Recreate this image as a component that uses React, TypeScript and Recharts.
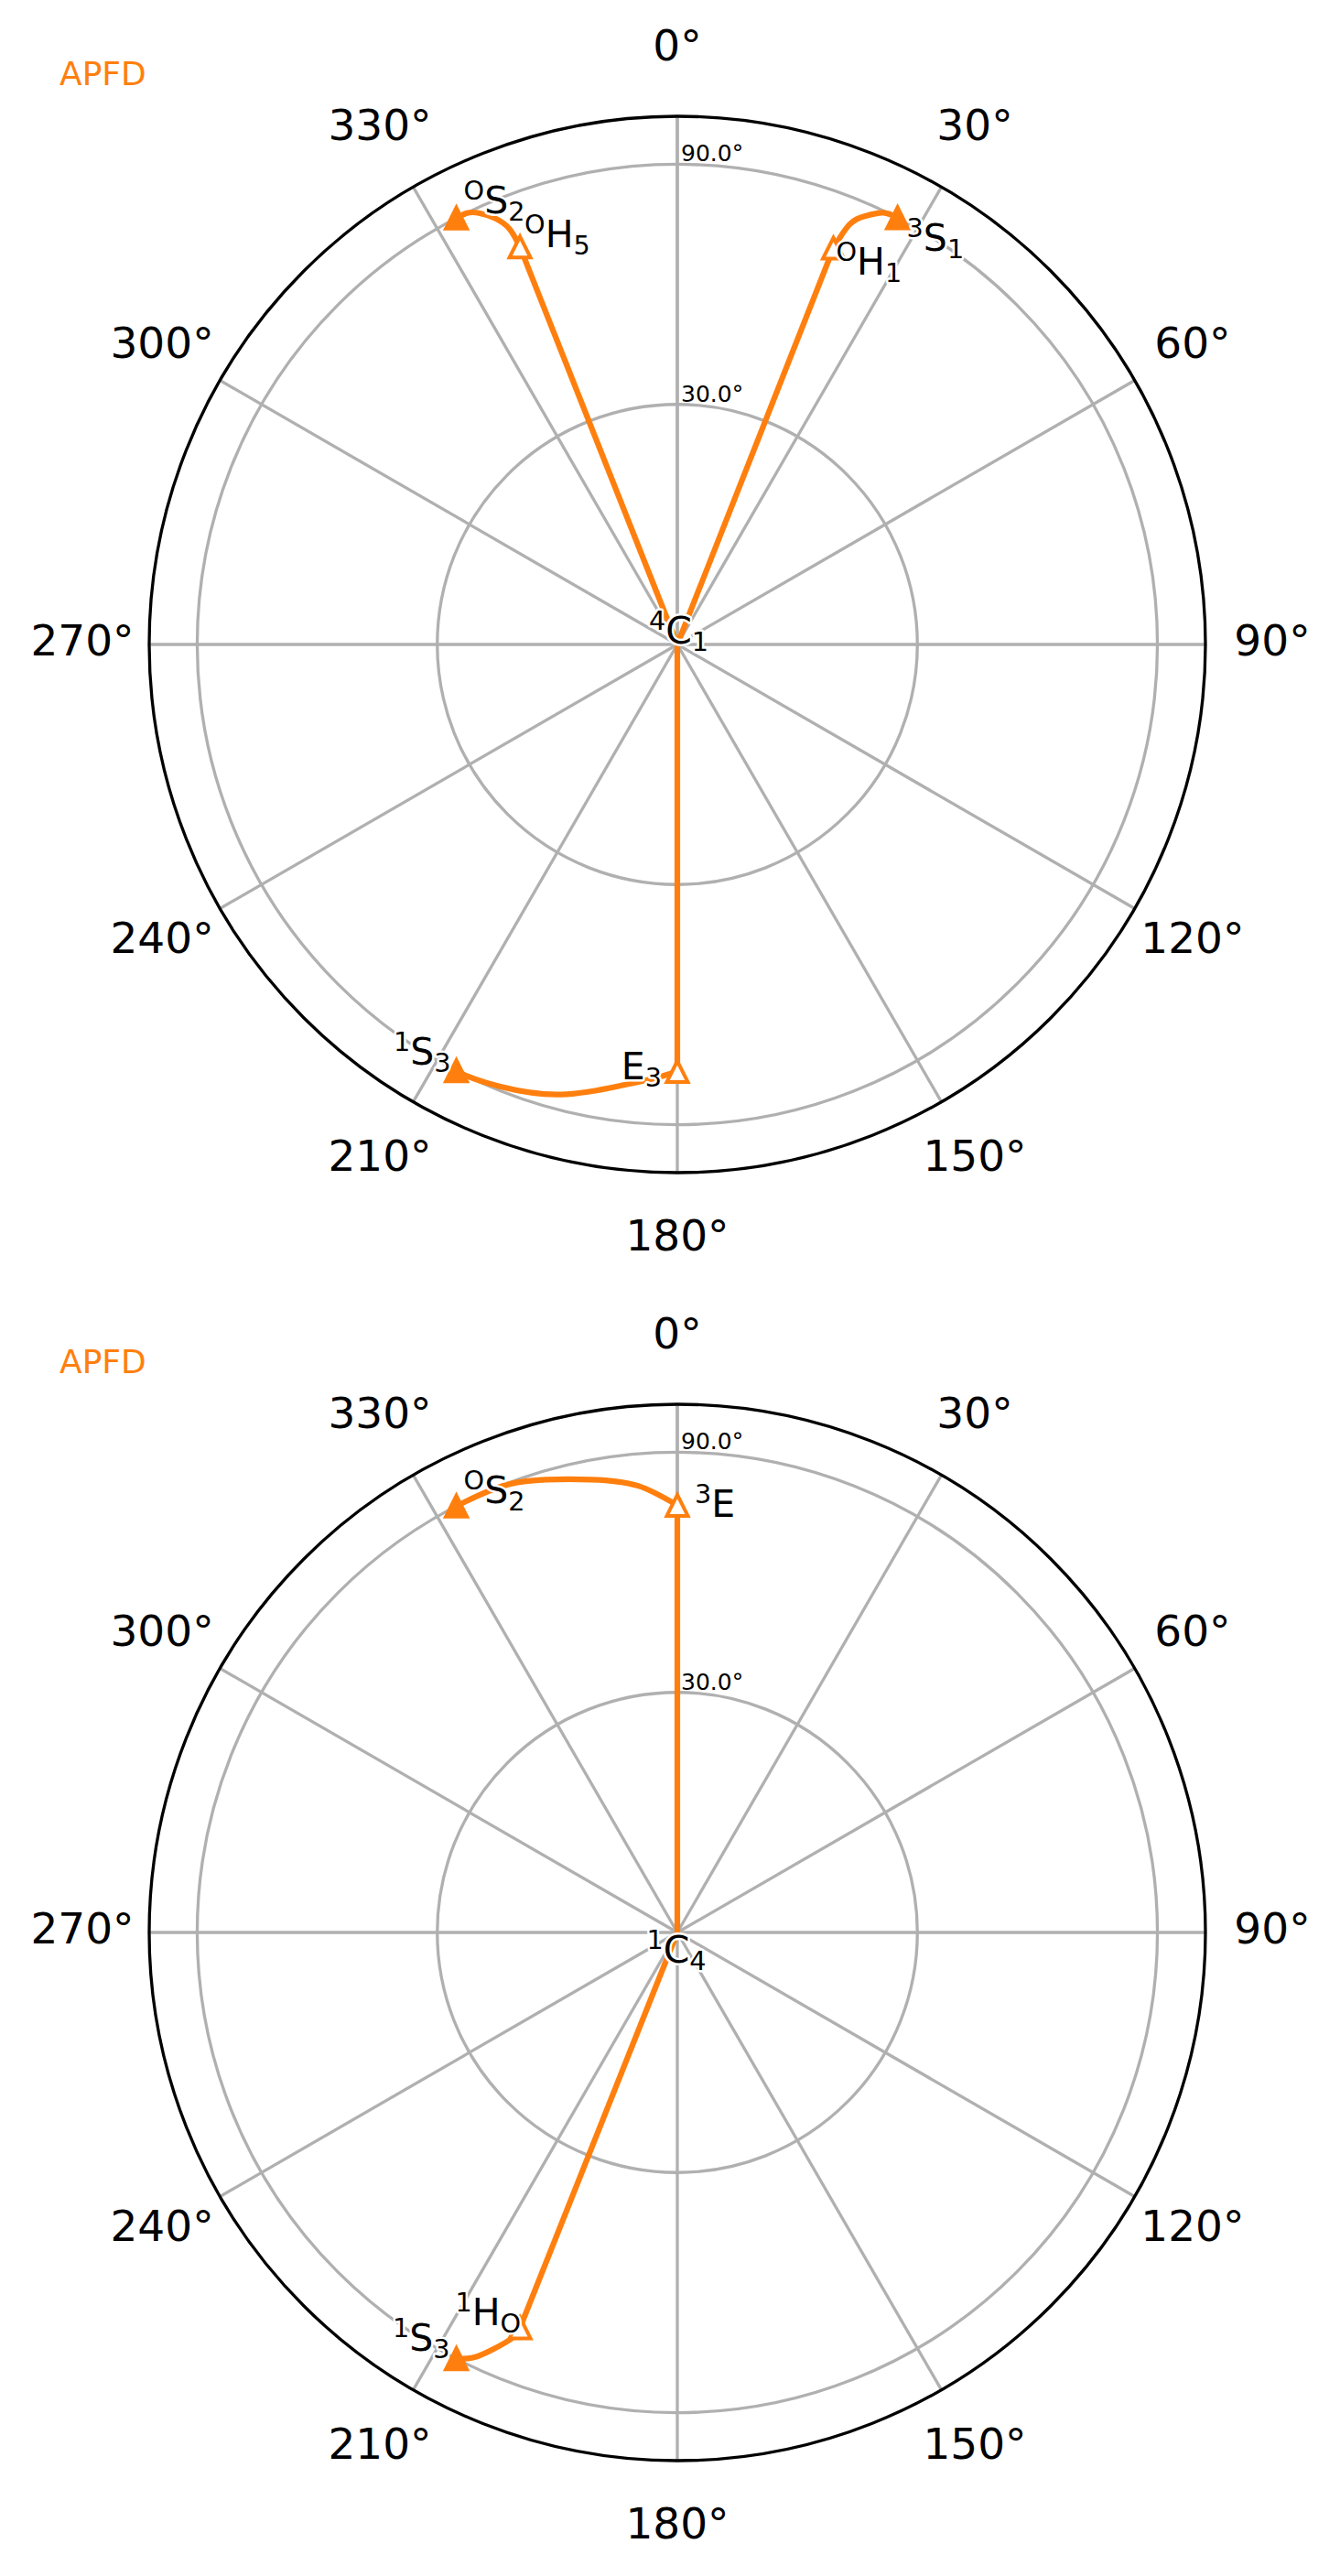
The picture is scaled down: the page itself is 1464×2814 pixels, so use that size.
import { RadarChart, Radar, PolarGrid, PolarAngleAxis, PolarRadiusAxis, Curve } from "recharts";

// radial axis: puckering amplitude theta (deg), drawn on a sin(theta) scale
const radialTickThetas = [30, 90];
const radialMax = 1.1;

// upper panel
const p1Title = "APFD";
const p1Origin = ["4", "C", "1"];
const p1aPhi = [338.4, 338.4, 338.0, 336.8, 335.3, 334.0, 332.6];
const p1aTheta = [0, 62.9, 69, 75, 81.5, 88, 90];
const p1aLabels = [null, ["O", "H", "5"], null, null, null, null, ["O", "S", "2"]];
const p1bPhi = [21.5, 21.5, 22.3, 23.7, 25.5, 27.3];
const p1bTheta = [0, 62.5, 71, 77, 85, 90];
const p1bLabels = [null, ["O", "H", "1"], null, null, null, ["3", "S", "1"]];
const p1cPhi = [180, 180, 183.3, 187.1, 194.5, 201.8, 206, 207.4];
const p1cTheta = [0, 62.8, 65, 67.7, 75.5, 82.7, 89, 90];
const p1cLabels = [null, ["", "E", "3"], null, null, null, null, null, ["1", "S", "3"]];

// lower panel
const p2Title = "APFD";
const p2Origin = ["1", "C", "4"];
const p2aPhi = [0, 0, 354.9, 349.3, 343.8, 339.5, 335.6, 332.6];
const p2aTheta = [0, 62.8, 69.1, 73.7, 79.1, 85.6, 89.5, 90];
const p2aLabels = [null, ["3", "E", ""], null, null, null, null, null, ["O", "S", "2"]];
const p2bPhi = [201.7, 201.7, 202.1, 204.0, 205.7, 207.4];
const p2bTheta = [0, 62.4, 65.6, 72.2, 79.4, 90];
const p2bLabels = [null, ["1", "H", "O"], null, null, null, ["1", "S", "3"]];

const ORANGE = "#ff7f0e";
const GRID = "#b0b0b0";
const FONT = "DejaVu Sans";
const LABEL_SIZE = 41;
const SCRIPT_SIZE = 28.7;

// label offsets from their point (px): dx, baseline dy, anchor
const p1Place = {
  "4C1": { dx: 1.5, dy: -1, anchor: "middle" },
  OH5: { dx: 5, dy: 0, anchor: "start" },
  OS2: { dx: 8, dy: -5, anchor: "start" },
  OH1: { dx: 3, dy: 29, anchor: "start" },
  "3S1": { dx: 10, dy: 36, anchor: "start" },
  E3: { dx: -17, dy: 8, anchor: "end" },
  "1S3": { dx: -6, dy: -7, anchor: "end" },
};
const p2Place = {
  "1C4": { dx: -1, dy: 33, anchor: "middle" },
  "3E": { dx: 19, dy: 13, anchor: "start" },
  OS2: { dx: 8, dy: -3, anchor: "start" },
  "1HO": { dx: 1, dy: -3, anchor: "end" },
  "1S3": { dx: -7, dy: -9, anchor: "end" },
};

const sinDeg = (d: number) => Math.sin((d * Math.PI) / 180);
const radialTicks = radialTickThetas.map(sinDeg);

type Traj = { phi: number[]; theta: number[]; labels: (string[] | null)[] };

function buildRows(trajs: Traj[], origin: string[]) {
  const rows: any[] = [];
  trajs.forEach((t, ti) => {
    t.phi.forEach((phi, i) => {
      const r = sinDeg(t.theta[i]);
      const label = i === 0 ? (ti === 0 ? origin : null) : t.labels[i];
      const last = i === t.phi.length - 1;
      rows.push({
        phi,
        [`t${ti}`]: r,
        lab: label ? r : undefined,
        label,
        mark: i === 0 ? null : last ? "end" : label ? "mid" : null,
      });
    });
  });
  return rows;
}

const panels = [
  {
    title: p1Title,
    place: p1Place,
    trajs: [
      { phi: p1aPhi, theta: p1aTheta, labels: p1aLabels },
      { phi: p1bPhi, theta: p1bTheta, labels: p1bLabels },
      { phi: p1cPhi, theta: p1cTheta, labels: p1cLabels },
    ],
    origin: p1Origin,
  },
  {
    title: p2Title,
    place: p2Place,
    trajs: [
      { phi: p2aPhi, theta: p2aTheta, labels: p2aLabels },
      { phi: p2bPhi, theta: p2bTheta, labels: p2bLabels },
    ],
    origin: p2Origin,
  },
];

const valid = (pts: any[]) => (pts || []).filter((p) => p.value != null && Number.isFinite(p.x) && Number.isFinite(p.y));

function Triangle({ x, y, filled }: { x: number; y: number; filled: boolean }) {
  const h = 11.5;
  return (
    <path
      d={`M${x},${y - h}L${x + h},${y + h}L${x - h},${y + h}Z`}
      fill={filled ? ORANGE : "#fff"}
      stroke={ORANGE}
      strokeWidth={4}
      strokeLinejoin="miter"
    />
  );
}

function TrajShape(props: any) {
  const pts = valid(props.points);
  if (!pts.length) return <g />;
  const mid = Math.max(1, pts.findIndex((p) => p.payload.mark === "mid"));
  return (
    <g>
      <Curve type="linear" points={pts.slice(0, mid + 1)} stroke={ORANGE} strokeWidth={6.2} fill="none" />
      <Curve type="natural" points={pts.slice(mid)} stroke={ORANGE} strokeWidth={6.2} fill="none" />
      {pts
        .filter((p) => p.payload.mark)
        .map((p, i) => (
          <Triangle key={i} x={p.x} y={p.y} filled={p.payload.mark === "end"} />
        ))}
    </g>
  );
}

function makeLabelShape(place: any) {
  return (props: any) => {
    const pts = valid(props.points);
    return (
      <g>
        {pts.map((p, i) => {
          const [sup, base, sub] = p.payload.label as string[];
          const pl = place[sup + base + sub];
          return (
            <text
              key={i}
              x={p.x + pl.dx}
              y={p.y + pl.dy}
              textAnchor={pl.anchor}
              fontFamily={FONT}
              fontSize={LABEL_SIZE}
              fill="#000"
              stroke="#fff"
              strokeWidth={5}
              paintOrder="stroke"
              strokeLinejoin="round"
            >
              {sup ? (
                <tspan fontSize={SCRIPT_SIZE} dy={-15}>
                  {sup}
                </tspan>
              ) : null}
              <tspan dy={sup ? 15 : 0}>{base}</tspan>
              {sub ? (
                <tspan fontSize={SCRIPT_SIZE} dy={8}>
                  {sub}
                </tspan>
              ) : null}
            </text>
          );
        })}
      </g>
    );
  };
}

function AngleTick(props: any) {
  const { x, y, payload } = props;
  if (payload.value >= 360) return <g />;
  return (
    <text x={x} y={y + 12} textAnchor="middle" fontFamily={FONT} fontSize={47} fill="#000">
      {`${payload.value}°`}
    </text>
  );
}

function RadiusTick(props: any) {
  const { x, y, payload } = props;
  let k = 0;
  radialTicks.forEach((v, i) => {
    if (Math.abs(v - payload.value) < Math.abs(radialTicks[k] - payload.value)) k = i;
  });
  return (
    <text x={x + 4} y={y - 3} textAnchor="start" fontFamily={FONT} fontSize={25} fill="#000">
      {`${radialTickThetas[k].toFixed(1)}°`}
    </text>
  );
}

function Panel({ panel }: { panel: any }) {
  const rows = buildRows(panel.trajs, panel.origin);
  const LabelShape = makeLabelShape(panel.place);
  return (
    <div style={{ position: "relative", width: 1464, height: 1407 }}>
      <RadarChart
        width={1464}
        height={1407}
        data={rows}
        cx={740}
        cy={704}
        outerRadius={577}
        startAngle={90}
        endAngle={-270}
        margin={{ top: 0, right: 0, bottom: 0, left: 0 }}
      >
        <PolarGrid gridType="circle" stroke={GRID} strokeWidth={3.3} />
        <PolarAngleAxis
          dataKey="phi"
          type="number"
          domain={[0, 360]}
          tickCount={13}
          axisLineType="circle"
          axisLine={{ stroke: "#000", strokeWidth: 3.3 }}
          tickLine={false}
          tickSize={73}
          tick={AngleTick}
        />
        <PolarRadiusAxis
          angle={90}
          type="number"
          domain={[0, radialMax]}
          ticks={radialTicks}
          axisLine={false}
          tickLine={false}
          tick={RadiusTick}
        />
        {panel.trajs.map((_: any, ti: number) => (
          <Radar key={ti} dataKey={`t${ti}`} isAnimationActive={false} shape={TrajShape} stroke={ORANGE} fill="none" />
        ))}
        <Radar dataKey="lab" isAnimationActive={false} shape={LabelShape} fill="none" />
      </RadarChart>
      <div
        style={{
          position: "absolute",
          left: 65,
          top: 62.5,
          color: ORANGE,
          fontFamily: FONT,
          fontSize: 36,
          lineHeight: "36px",
          whiteSpace: "nowrap",
        }}
      >
        {panel.title}
      </div>
    </div>
  );
}

export default function App() {
  return (
    <div style={{ position: "absolute", left: 0, top: 0, width: 1464, height: 2814, background: "#fff" }}>
      {panels.map((p, i) => (
        <Panel key={i} panel={p} />
      ))}
    </div>
  );
}
